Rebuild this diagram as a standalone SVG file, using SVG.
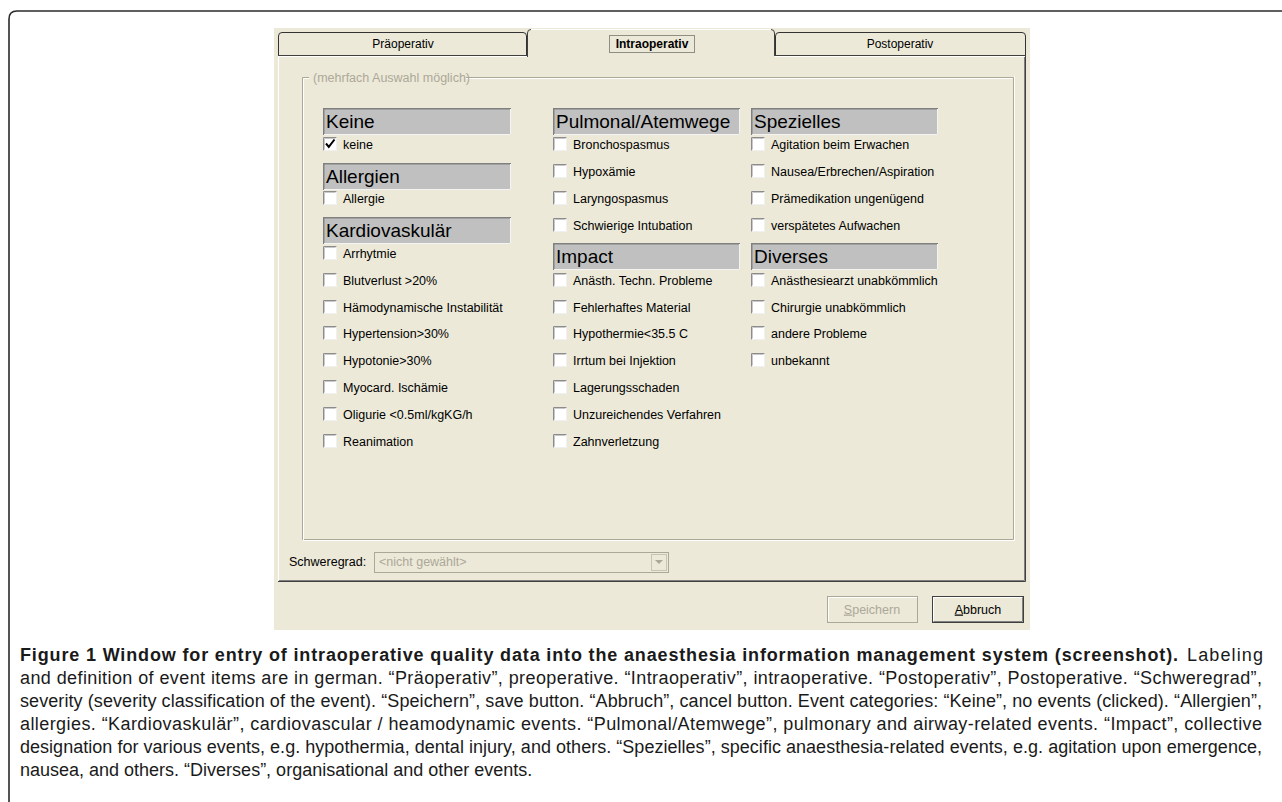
<svg xmlns="http://www.w3.org/2000/svg" xmlns:xlink="http://www.w3.org/1999/xlink" width="1282" height="802" viewBox="0 0 1282 802">
<style>
.ui{font-family:"Liberation Sans",Arial,sans-serif;font-size:12.5px;fill:#000}
.tab{font-family:"Liberation Sans",Arial,sans-serif;font-size:12px;fill:#000;text-anchor:middle}
.hdt{font-family:"Liberation Sans",Arial,sans-serif;font-size:19px;fill:#000}
.hdr{fill:#C0C0C0}
.hdk{fill:none;stroke:#808080;stroke-width:1.5}
.hdl{fill:none;stroke:#F4F4F4;stroke-width:1}
.cap{font-family:"Liberation Sans",Arial,sans-serif;font-size:18px;fill:#1a1a1a}
.dk{fill:none;stroke:#404040;stroke-width:1}
.gr{fill:none;stroke:#808080;stroke-width:1}
.wh{fill:none;stroke:#FFFFFF;stroke-width:1}
.et{fill:none;stroke:#ACA899;stroke-width:1}
</style>
<defs>
<symbol id="cb" viewBox="0 0 14 14" width="14" height="14">
<rect x="0" y="0" width="14" height="14" fill="#FFFFFF"/>
<path d="M0.5,13.5 V0.5 H13.5" fill="none" stroke="#8C8C8C"/>
<path d="M1.5,12.5 V1.5 H12.5" fill="none" stroke="#C8C8C8"/>
<path d="M1,13.5 H13.5 V1" fill="none" stroke="#F0F0F0"/>
</symbol>
</defs>
<rect width="1282" height="802" fill="#FFFFFF"/>
<path d="M9,802 V19 Q9,11 17,11 H1282" fill="none" stroke="#2b2b2b" stroke-width="1.6"/>

<g id="window">
<rect x="274" y="28" width="756" height="602" fill="#ECE9D8"/>
<path class="wh" d="M278.5,582 V56.5 H527 M775 56.5 H1025"/>
<path class="gr" d="M279,580.5 H1024.5 V57"/>
<path class="dk" d="M278,581.5 H1025.5 V56"/>
</g>

<g id="tab-praeoperativ">
<path d="M278.5,56 V36 Q278.5,32.5 282,32.5 H523 Q526.5,32.5 526.5,36 V56" fill="#ECE9D8" stroke="#333" stroke-width="1"/>
<path class="dk" d="M278,55.5 H527"/>
<text class="tab" x="403" y="48">Präoperativ</text>
</g>
<g id="tab-intraoperativ">
<path d="M527.5,57 V33 Q527.5,29.5 531,29.5 H771 Q774.5,29.5 774.5,33 V57 Z" fill="#ECE9D8" stroke="none"/>
<path class="dk" d="M527.5,57 V33 Q527.5,29.5 531,29.5"/>
<path class="wh" d="M531,29.5 H771"/>
<path class="dk" d="M771,29.5 Q774.5,29.5 774.5,33 V56"/>
<text class="tab" x="652" y="48" font-weight="bold">Intraoperativ</text>
<rect x="609.5" y="35.5" width="85" height="17" fill="none" stroke="#333" stroke-width="1" stroke-dasharray="1,1"/>
</g>
<g id="tab-postoperativ">
<path d="M775.5,56 V36 Q775.5,32.5 779,32.5 H1022 Q1025.5,32.5 1025.5,36 V56" fill="#ECE9D8" stroke="#333" stroke-width="1"/>
<path class="dk" d="M775,55.5 H1026"/>
<text class="tab" x="900" y="48">Postoperativ</text>
</g>

<g id="groupbox">
<path class="et" d="M309,77.5 H302.5 V539.5 H1013.5 V77.5 H466"/>
<path class="wh" d="M309,78.5 H303.5 V540.5 H1014.5 V76.5 M1012.5,78.5 H466"/>
<text class="ui" x="313" y="81.5" style="fill:#ACA899">(mehrfach Auswahl möglich)</text>
</g>

<g id="cat-keine">
<rect class="hdr" x="323" y="108" width="188" height="27"/>
<path class="hdk" d="M323.75,135 V108.75 H511"/><path class="hdl" d="M324,134.5 H510.5 V109"/>
<text class="hdt" x="326" y="128">Keine</text>
<use xlink:href="#cb" href="#cb" x="323" y="137"/>
<path d="M326,143.5 L328.8,146.8 L334.5,139.5" fill="none" stroke="#000" stroke-width="2"/>
<text class="ui" x="343" y="148.5">keine</text>
</g>
<g id="cat-allergien">
<rect class="hdr" x="323" y="163" width="188" height="27"/>
<path class="hdk" d="M323.75,190 V163.75 H511"/><path class="hdl" d="M324,189.5 H510.5 V164"/>
<text class="hdt" x="326" y="183">Allergien</text>
<use href="#cb" x="323" y="191"/><text class="ui" x="343" y="202.5">Allergie</text>
</g>
<g id="cat-kardiovaskulaer">
<rect class="hdr" x="323" y="217" width="188" height="27"/>
<path class="hdk" d="M323.75,244 V217.75 H511"/><path class="hdl" d="M324,243.5 H510.5 V218"/>
<text class="hdt" x="326" y="237">Kardiovaskulär</text>
<use href="#cb" x="323" y="246"/><text class="ui" x="343" y="257.5">Arrhytmie</text>
<use href="#cb" x="323" y="273"/><text class="ui" x="343" y="284.5">Blutverlust &gt;20%</text>
<use href="#cb" x="323" y="300"/><text class="ui" x="343" y="311.5">Hämodynamische Instabilität</text>
<use href="#cb" x="323" y="326"/><text class="ui" x="343" y="337.5">Hypertension&gt;30%</text>
<use href="#cb" x="323" y="353"/><text class="ui" x="343" y="364.5">Hypotonie&gt;30%</text>
<use href="#cb" x="323" y="380"/><text class="ui" x="343" y="391.5">Myocard. Ischämie</text>
<use href="#cb" x="323" y="407"/><text class="ui" x="343" y="418.5">Oligurie &lt;0.5ml/kgKG/h</text>
<use href="#cb" x="323" y="434"/><text class="ui" x="343" y="445.5">Reanimation</text>
</g>

<g id="cat-pulmonal">
<rect class="hdr" x="553" y="108" width="187" height="27"/>
<path class="hdk" d="M553.75,135 V108.75 H740"/><path class="hdl" d="M554,134.5 H739.5 V109"/>
<text class="hdt" x="556" y="128">Pulmonal/Atemwege</text>
<use href="#cb" x="553" y="137"/><text class="ui" x="573" y="148.5">Bronchospasmus</text>
<use href="#cb" x="553" y="164"/><text class="ui" x="573" y="175.5">Hypoxämie</text>
<use href="#cb" x="553" y="191"/><text class="ui" x="573" y="202.5">Laryngospasmus</text>
<use href="#cb" x="553" y="218"/><text class="ui" x="573" y="229.5">Schwierige Intubation</text>
</g>
<g id="cat-impact">
<rect class="hdr" x="553" y="243" width="187" height="27"/>
<path class="hdk" d="M553.75,270 V243.75 H740"/><path class="hdl" d="M554,269.5 H739.5 V244"/>
<text class="hdt" x="556" y="263">Impact</text>
<use href="#cb" x="553" y="273"/><text class="ui" x="573" y="284.5">Anästh. Techn. Probleme</text>
<use href="#cb" x="553" y="300"/><text class="ui" x="573" y="311.5">Fehlerhaftes Material</text>
<use href="#cb" x="553" y="326"/><text class="ui" x="573" y="337.5">Hypothermie&lt;35.5 C</text>
<use href="#cb" x="553" y="353"/><text class="ui" x="573" y="364.5">Irrtum bei Injektion</text>
<use href="#cb" x="553" y="380"/><text class="ui" x="573" y="391.5">Lagerungsschaden</text>
<use href="#cb" x="553" y="407"/><text class="ui" x="573" y="418.5">Unzureichendes Verfahren</text>
<use href="#cb" x="553" y="434"/><text class="ui" x="573" y="445.5">Zahnverletzung</text>
</g>

<g id="cat-spezielles">
<rect class="hdr" x="751" y="108" width="187" height="27"/>
<path class="hdk" d="M751.75,135 V108.75 H938"/><path class="hdl" d="M752,134.5 H937.5 V109"/>
<text class="hdt" x="754" y="128">Spezielles</text>
<use href="#cb" x="751" y="137"/><text class="ui" x="771" y="148.5">Agitation beim Erwachen</text>
<use href="#cb" x="751" y="164"/><text class="ui" x="771" y="175.5">Nausea/Erbrechen/Aspiration</text>
<use href="#cb" x="751" y="191"/><text class="ui" x="771" y="202.5">Prämedikation ungenügend</text>
<use href="#cb" x="751" y="218"/><text class="ui" x="771" y="229.5">verspätetes Aufwachen</text>
</g>
<g id="cat-diverses">
<rect class="hdr" x="751" y="243" width="187" height="27"/>
<path class="hdk" d="M751.75,270 V243.75 H938"/><path class="hdl" d="M752,269.5 H937.5 V244"/>
<text class="hdt" x="754" y="263">Diverses</text>
<use href="#cb" x="751" y="273"/><text class="ui" x="771" y="284.5">Anästhesiearzt unabkömmlich</text>
<use href="#cb" x="751" y="300"/><text class="ui" x="771" y="311.5">Chirurgie unabkömmlich</text>
<use href="#cb" x="751" y="326"/><text class="ui" x="771" y="337.5">andere Probleme</text>
<use href="#cb" x="751" y="353"/><text class="ui" x="771" y="364.5">unbekannt</text>
</g>

<g id="schweregrad">
<text class="ui" x="289" y="566">Schweregrad:</text>
<rect x="374.5" y="552.5" width="294" height="20" fill="#ECE9D8" stroke="#ACA899"/>
<text class="ui" x="379" y="566" style="fill:#ACA899">&lt;nicht gewählt&gt;</text>
<rect x="651.5" y="554.5" width="15" height="16" fill="#ECE9D8" stroke="#C8C4B4"/>
<path d="M655,560 H663 L659,564 Z" fill="#ACA899"/>
</g>

<g id="btn-speichern">
<rect x="827.5" y="596.5" width="90" height="26" fill="#ECE9D8" stroke="#ACA899"/>
<path class="wh" d="M828.5,621 V597.5 H917"/>
<text class="ui" x="872" y="613.5" text-anchor="middle" style="fill:#ACA899"><tspan text-decoration="underline">S</tspan>peichern</text>
</g>
<g id="btn-abbruch">
<rect x="932.5" y="596.5" width="91" height="26" fill="#ECE9D8" stroke="#404040"/>
<path class="wh" d="M933.5,621 V597.5 H1022"/>
<path class="gr" d="M933.5,621.5 H1022.5 V597.5"/>
<text class="ui" x="978" y="613.5" text-anchor="middle"><tspan text-decoration="underline">A</tspan>bbruch</text>
</g>

<g id="caption">
<text class="cap" x="20" y="661" font-weight="bold" textLength="1158" lengthAdjust="spacing">Figure 1 Window for entry of intraoperative quality data into the anaesthesia information management system (screenshot).</text>
<text class="cap" x="1187" y="661" textLength="76" lengthAdjust="spacing">Labeling</text>
<text class="cap" x="20" y="684" textLength="1242" lengthAdjust="spacing">and definition of event items are in german. “Präoperativ”, preoperative. “Intraoperativ”, intraoperative. “Postoperativ”, Postoperative. “Schweregrad”,</text>
<text class="cap" x="20" y="707" textLength="1242" lengthAdjust="spacing">severity (severity classification of the event). “Speichern”, save button. “Abbruch”, cancel button. Event categories: “Keine”, no events (clicked). “Allergien”,</text>
<text class="cap" x="20" y="730" textLength="1242" lengthAdjust="spacing">allergies. “Kardiovaskulär”, cardiovascular / heamodynamic events. “Pulmonal/Atemwege”, pulmonary and airway-related events. “Impact”, collective</text>
<text class="cap" x="20" y="753" textLength="1242" lengthAdjust="spacing">designation for various events, e.g. hypothermia, dental injury, and others. “Spezielles”, specific anaesthesia-related events, e.g. agitation upon emergence,</text>
<text class="cap" x="20" y="776">nausea, and others. “Diverses”, organisational and other events.</text>
</g>
</svg>
